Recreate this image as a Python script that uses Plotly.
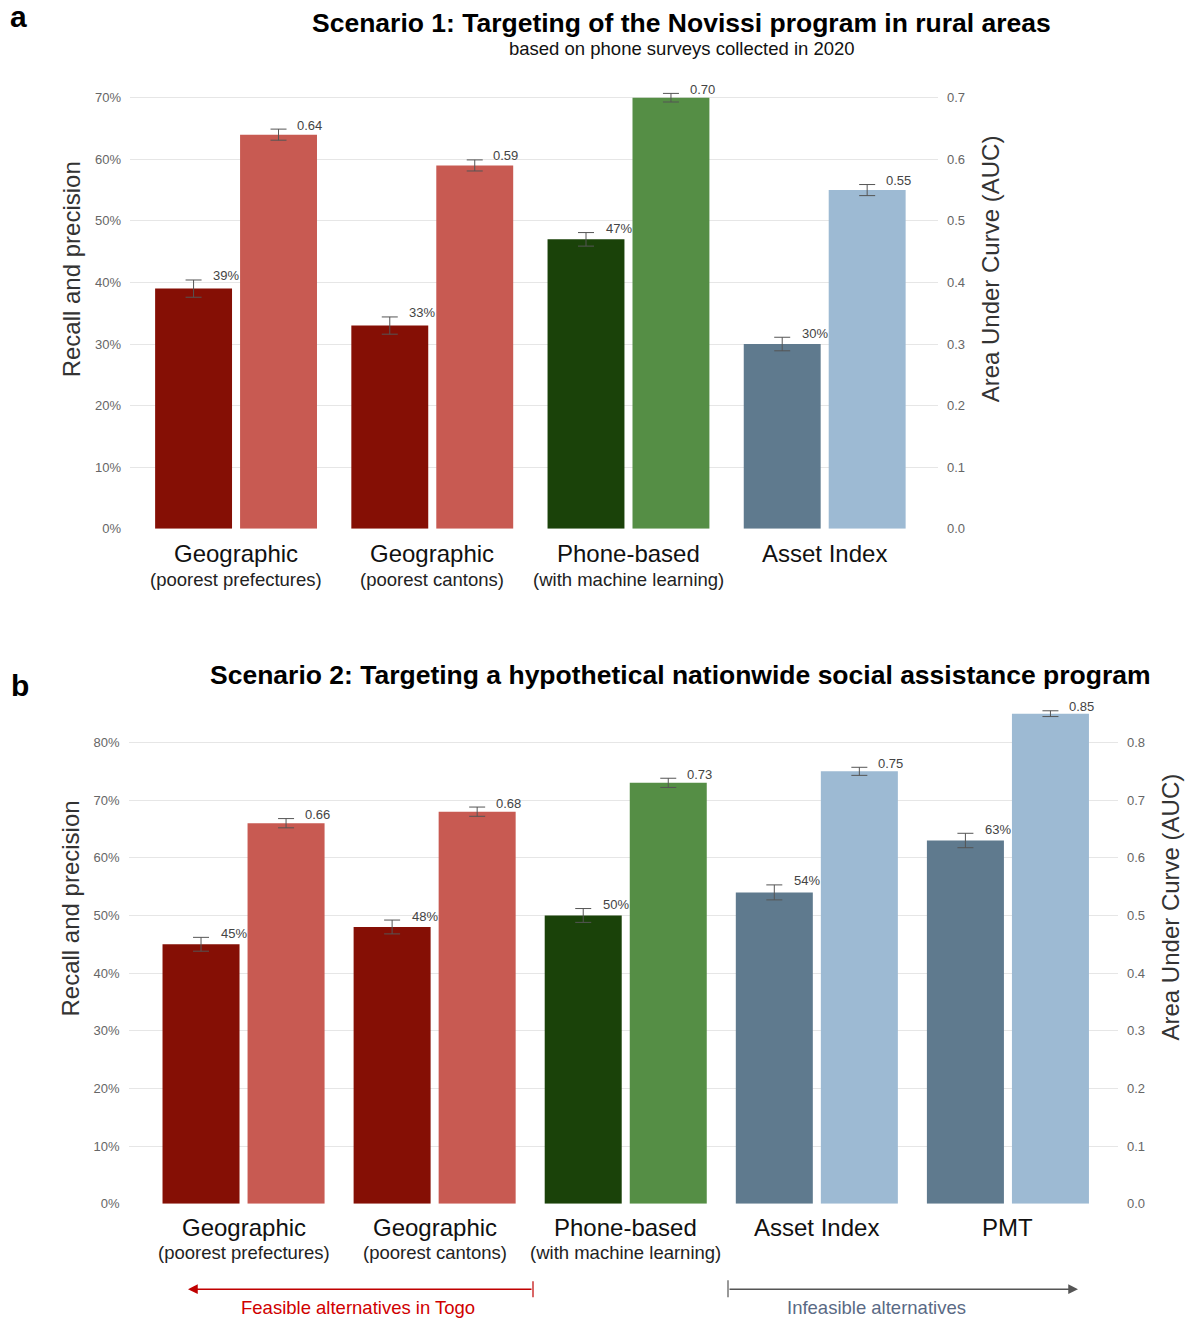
import plotly.graph_objects as go

W, H = 1186, 1327
FONT = "Liberation Sans, Arial, sans-serif"

# ---------------- data ----------------
cats_a = ["Geo-prefectures", "Geo-cantons", "Phone-based", "Asset Index"]
main_a = ["Geographic", "Geographic", "Phone-based", "Asset Index"]
sub_a = ["(poorest prefectures)", "(poorest cantons)", "(with machine learning)", ""]
recall_a = [0.39, 0.33, 0.47, 0.30]
recall_err_a = [0.014, 0.014, 0.011, 0.011]
auc_a = [0.64, 0.59, 0.70, 0.55]
auc_err_a = [0.009, 0.009, 0.007, 0.009]

cats_b = ["Geo-prefectures", "Geo-cantons", "Phone-based", "Asset Index", "PMT"]
main_b = ["Geographic", "Geographic", "Phone-based", "Asset Index", "PMT"]
sub_b = ["(poorest prefectures)", "(poorest cantons)", "(with machine learning)", "", ""]
recall_b = [0.45, 0.48, 0.50, 0.54, 0.63]
recall_err_b = [0.012, 0.012, 0.012, 0.013, 0.0125]
auc_b = [0.66, 0.68, 0.73, 0.75, 0.85]
auc_err_b = [0.008, 0.008, 0.008, 0.007, 0.005]

pct_ticks_a = [0, 0.1, 0.2, 0.3, 0.4, 0.5, 0.6, 0.7]
pct_ticks_b = [0, 0.1, 0.2, 0.3, 0.4, 0.5, 0.6, 0.7, 0.8]

dark_col = {"Geo-prefectures": "#850F05", "Geo-cantons": "#850F05", "Phone-based": "#1A4209",
            "Asset Index": "#5F7A8E", "PMT": "#5F7A8E"}
light_col = {"Geo-prefectures": "#C85A52", "Geo-cantons": "#C85A52", "Phone-based": "#558E45",
             "Asset Index": "#9DBAD3", "PMT": "#9DBAD3"}


def px_x(p):
    return p / W


def px_y(p):
    return 1 - p / H


fig = go.Figure()
err_style = dict(type="data", color="#555555", thickness=1, width=8)


def add_panel(cats, rec, rec_err, auc, auc_err, xa, ya, ya2, width, off_d, off_l):
    fig.add_trace(go.Bar(
        x=cats, y=rec, xaxis=xa, yaxis=ya, width=width, offset=off_d,
        marker=dict(color=[dark_col[c] for c in cats], line=dict(width=0)),
        error_y=dict(array=rec_err, **err_style), showlegend=False, cliponaxis=False,
        hoverinfo="skip"))
    fig.add_trace(go.Bar(
        x=cats, y=auc, xaxis=xa, yaxis=ya2, width=width, offset=off_l,
        marker=dict(color=[light_col[c] for c in cats], line=dict(width=0)),
        error_y=dict(array=auc_err, **err_style), showlegend=False, cliponaxis=False,
        hoverinfo="skip"))


add_panel(cats_a, recall_a, recall_err_a, auc_a, auc_err_a, "x", "y", "y2", 0.392, -0.413, 0.020)
add_panel(cats_b, recall_b, recall_err_b, auc_b, auc_err_b, "x2", "y3", "y4", 0.403, -0.424, 0.021)

tickfont = dict(family=FONT, size=13, color="#666666")

ya_dom = [px_y(532), px_y(85.9)]
yb_dom = [px_y(1211), px_y(706.4)]

fig.update_layout(
    width=W, height=H, autosize=False,
    margin=dict(l=0, r=0, t=0, b=0),
    paper_bgcolor="white", plot_bgcolor="white",
    barmode="overlay",
    font=dict(family=FONT, color="#222222"),
    xaxis=dict(domain=[px_x(130), px_x(938)], anchor="y", type="category",
               categoryorder="array", categoryarray=cats_a,
               range=[-0.541, 3.577], showticklabels=False, showgrid=False,
               zeroline=False, showline=False, fixedrange=True),
    yaxis=dict(domain=ya_dom, anchor="x", range=[0, 0.72], tickvals=pct_ticks_a,
               tickformat=".0%", gridcolor="#E6E6E6", gridwidth=1, zeroline=False,
               showline=False, tickfont=tickfont, ticklabelstandoff=8),
    yaxis2=dict(overlaying="y", side="right", anchor="x", range=[0, 0.72],
                tickvals=pct_ticks_a, tickformat=".1f", showgrid=False, zeroline=False,
                showline=False, tickfont=tickfont, ticklabelstandoff=8),
    xaxis2=dict(domain=[px_x(128.5), px_x(1118)], anchor="y3", type="category",
                categoryorder="array", categoryarray=cats_b,
                range=[-0.602, 4.576], showticklabels=False, showgrid=False,
                zeroline=False, showline=False),
    yaxis3=dict(domain=yb_dom, anchor="x2", range=[0, 0.87], tickvals=pct_ticks_b,
                tickformat=".0%", gridcolor="#E6E6E6", gridwidth=1, zeroline=False,
                showline=False, tickfont=tickfont, ticklabelstandoff=8),
    yaxis4=dict(overlaying="y3", side="right", anchor="x2", range=[0, 0.87],
                tickvals=pct_ticks_b, tickformat=".1f", showgrid=False, zeroline=False,
                showline=False, tickfont=tickfont, ticklabelstandoff=8),
)

ann = []


def txt(text, x, y, size, color="#111111", bold=False, angle=0, xanchor="center", yanchor="middle"):
    ann.append(dict(text=f"<b>{text}</b>" if bold else text, x=px_x(x), y=px_y(y),
                    xref="paper", yref="paper", showarrow=False, textangle=angle,
                    xanchor=xanchor, yanchor=yanchor,
                    font=dict(family=FONT, size=size, color=color)))


# panel letters & titles
txt("a", 18, 17, 30, "#000000", bold=True, xanchor="center")
txt("b", 20, 690, 30, "#000000", bold=True, xanchor="center")
txt("Scenario 1: Targeting of the Novissi program in rural areas", 681, 23, 26.5, "#000000", bold=True)
txt("based on phone surveys collected in 2020", 682, 49, 18.5, "#111111")
txt("Scenario 2: Targeting a hypothetical nationwide social assistance program", 680, 679, 26.5, "#000000", bold=True)

# axis titles
txt("Recall and precision", 71, 271, 24, "#333333", angle=-90)
txt("Area Under Curve (AUC)", 990, 271, 24, "#333333", angle=-90)
txt("Recall and precision", 70, 914, 24, "#333333", angle=-90)
txt("Area Under Curve (AUC)", 1170, 913, 24, "#333333", angle=-90)


def cat_labels(cats, mains, subs, xa, y_main, y_sub):
    for c, m, s in zip(cats, mains, subs):
        ann.append(dict(text=m, x=c, xref=xa, y=px_y(y_main), yref="paper", showarrow=False,
                        yanchor="middle", font=dict(family=FONT, size=24, color="#111111")))
        if s:
            ann.append(dict(text=s, x=c, xref=xa, y=px_y(y_sub), yref="paper", showarrow=False,
                            yanchor="middle", font=dict(family=FONT, size=18.5, color="#222222")))


cat_labels(cats_a, main_a, sub_a, "x", 557, 583)
cat_labels(cats_b, main_b, sub_b, "x2", 1235, 1260)


def value_labels(cats, rec, rec_err, auc, auc_err, xa, ya, ya2):
    for c, v, e in zip(cats, rec, rec_err):
        ann.append(dict(text=f"{v*100:.0f}%", x=c, xref=xa, y=v + e, yref=ya, showarrow=False,
                        xanchor="left", yanchor="middle", xshift=-25, yshift=4,
                        font=dict(family=FONT, size=13, color="#444444")))
    for c, v, e in zip(cats, auc, auc_err):
        ann.append(dict(text=f"{v:.2f}", x=c, xref=xa, y=v + e, yref=ya2, showarrow=False,
                        xanchor="left", yanchor="middle", xshift=59, yshift=4,
                        font=dict(family=FONT, size=13, color="#444444")))


value_labels(cats_a, recall_a, recall_err_a, auc_a, auc_err_a, "x", "y", "y2")
value_labels(cats_b, recall_b, recall_err_b, auc_b, auc_err_b, "x2", "y3", "y4")

# bottom arrows
ann.append(dict(text="", x=px_x(188), y=px_y(1297), xref="paper", yref="paper",
                ax=533 - 188, ay=0, axref="pixel", ayref="pixel", showarrow=True,
                arrowhead=2, arrowsize=1.3, arrowwidth=1.5, arrowcolor="#C00000", standoff=0,
                startstandoff=0))
ann.append(dict(text="", x=px_x(1078), y=px_y(1297), xref="paper", yref="paper",
                ax=728 - 1078, ay=0, axref="pixel", ayref="pixel", showarrow=True,
                arrowhead=2, arrowsize=1.3, arrowwidth=1.5, arrowcolor="#555555", standoff=0,
                startstandoff=0))
txt("Feasible alternatives in Togo", 358, 1315, 18.5, "#D00000")
txt("Infeasible alternatives", 876, 1315, 18.5, "#5A6A85")

fig.update_layout(annotations=ann, shapes=[
    dict(type="line", xref="paper", yref="paper", x0=px_x(533), x1=px_x(533),
         y0=px_y(1289), y1=px_y(1305), line=dict(color="#C00000", width=1.2)),
    dict(type="line", xref="paper", yref="paper", x0=px_x(728), x1=px_x(728),
         y0=px_y(1288), y1=px_y(1305), line=dict(color="#555555", width=1.2)),
])

fig.write_html("out.html", config={"displayModeBar": False})

# make sure the page itself adds no margin or scrollbars around the figure
with open("out.html", "r", encoding="utf-8") as f:
    html = f.read()
html = html.replace("<head>", "<head><style>html,body{margin:0;padding:0;overflow:hidden;}</style>", 1)
with open("out.html", "w", encoding="utf-8") as f:
    f.write(html)
